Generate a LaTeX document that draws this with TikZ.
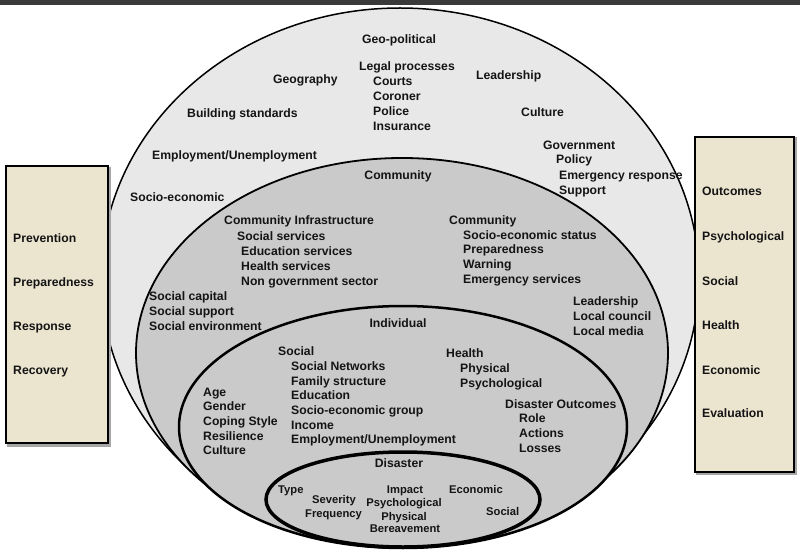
\documentclass[tikz,border=0pt]{standalone}
\usepackage{fontspec}
\setmainfont{Liberation Sans}
\begin{document}
\begin{tikzpicture}[x=1pt,y=-1pt,
  lbl/.style={anchor=base west,inner sep=0pt,font=\fontsize{12.2}{14}\selectfont\bfseries,text=black!92},
  clbl/.style={lbl,anchor=base},
  slbl/.style={lbl,font=\fontsize{11.2}{13}\selectfont\bfseries},
  sclbl/.style={slbl,anchor=base},
  ring/.style={draw=black},
  phasebox/.style={draw=black,line width=2.2pt,fill=boxfill}]
\definecolor{boxfill}{HTML}{EBE5D0}
\definecolor{outerfill}{HTML}{E8E8E8}
\definecolor{innerfill}{HTML}{CACACA}
\definecolor{bandcol}{HTML}{3A3A3A}
\useasboundingbox (0,0) rectangle (800,556);
\fill[white] (0,0) rectangle (800,556);
\fill[bandcol] (0,0) rectangle (800,5);
% ellipses
\draw[ring,fill=outerfill,line width=1.5pt] (400,278) ellipse [x radius=299,y radius=270];
\draw[ring,fill=innerfill,line width=1.8pt] (402,353) ellipse [x radius=266,y radius=195];
\draw[ring,fill=innerfill,line width=2.5pt] (403,427) ellipse [x radius=224,y radius=121];
\draw[ring,fill=innerfill,line width=3.5pt] (403,499.5) ellipse [x radius=137,y radius=47.5];
% boxes
\fill[black!35] (6.5,167.5) rectangle (110.5,446.5);
\node[phasebox,minimum width=102pt,minimum height=277pt,anchor=north west,inner sep=0pt] (lbox) at (5,165) {};
\fill[black!35] (695.5,137.5) rectangle (796.5,474.5);
\node[phasebox,minimum width=99pt,minimum height=335pt,anchor=north west,inner sep=0pt] (rbox) at (694,136) {};
% outer ring texts
\node[clbl] (o1) at (399,44) {Geo-political};
\node[lbl] (o2) at (273,84) {Geography};
\node[lbl] (o3) at (359,71) {Legal processes};
\node[lbl] (o4) at (373,86) {Courts};
\node[lbl] (o5) at (373,101) {Coroner};
\node[lbl] (o6) at (373,116) {Police};
\node[lbl] (o7) at (373,131) {Insurance};
\node[lbl] (o8) at (476,80) {Leadership};
\node[lbl] (o9) at (187,118) {Building standards};
\node[lbl] (o10) at (521,117) {Culture};
\node[lbl] (o11) at (152,160) {Employment/Unemployment};
\node[lbl] (o12) at (543,150) {Government};
\node[lbl] (o13) at (556,164) {Policy};
\node[lbl] (o14) at (559,180) {Emergency response};
\node[lbl] (o15) at (559,194) {Support};
\node[lbl] (o16) at (130,201) {Socio-economic};
% community texts
\node[clbl] (c1) at (398,180) {Community};
\node[lbl] (c2) at (224,225) {Community Infrastructure};
\node[lbl] (c3) at (237,240) {Social services};
\node[lbl] (c4) at (241,255) {Education services};
\node[lbl] (c5) at (241,270) {Health services};
\node[lbl] (c6) at (241,285) {Non government sector};
\node[lbl] (c7) at (449,224) {Community};
\node[lbl] (c8) at (463,239) {Socio-economic status};
\node[lbl] (c9) at (463,253) {Preparedness};
\node[lbl] (c10) at (463,268) {Warning};
\node[lbl] (c11) at (463,283) {Emergency services};
\node[lbl] (c12) at (149,300) {Social capital};
\node[lbl] (c13) at (149,315) {Social support};
\node[lbl] (c14) at (149,330) {Social environment};
\node[lbl] (c15) at (573,305) {Leadership};
\node[lbl] (c16) at (573,320) {Local council};
\node[lbl] (c17) at (573,335) {Local media};
% individual texts
\node[clbl] (i1) at (398,327) {Individual};
\node[lbl] (i2) at (278,355) {Social};
\node[lbl] (i3) at (291,370) {Social Networks};
\node[lbl] (i4) at (291,385) {Family structure};
\node[lbl] (i5) at (291,399) {Education};
\node[lbl] (i6) at (291,414) {Socio-economic group};
\node[lbl] (i7) at (291,429) {Income};
\node[lbl] (i8) at (291,443) {Employment/Unemployment};
\node[lbl] (i9) at (446,357) {Health};
\node[lbl] (i10) at (460,372) {Physical};
\node[lbl] (i11) at (460,387) {Psychological};
\node[lbl] (i12) at (203,396) {Age};
\node[lbl] (i13) at (203,410) {Gender};
\node[lbl] (i14) at (203,425) {Coping Style};
\node[lbl] (i15) at (203,440) {Resilience};
\node[lbl] (i16) at (203,454) {Culture};
\node[lbl] (i17) at (505,408) {Disaster Outcomes};
\node[lbl] (i18) at (519,422) {Role};
\node[lbl] (i19) at (519,437) {Actions};
\node[lbl] (i20) at (519,452) {Losses};
% disaster texts
\node[clbl] (d1) at (399,467) {Disaster};
\node[slbl] (d2) at (278,493) {Type};
\node[slbl] (d3) at (312,503) {Severity};
\node[slbl] (d4) at (305,517) {Frequency};
\node[sclbl] (d5) at (405,493) {Impact};
\node[sclbl] (d6) at (404,506) {Psychological};
\node[sclbl] (d7) at (404,520) {Physical};
\node[sclbl] (d8) at (405,532) {Bereavement};
\node[slbl] (d9) at (449,493) {Economic};
\node[slbl] (d10) at (486,515) {Social};
% left box texts
\node[lbl] (l1) at (13,242) {Prevention};
\node[lbl] (l2) at (13,286) {Preparedness};
\node[lbl] (l3) at (13,330) {Response};
\node[lbl] (l4) at (13,374) {Recovery};
% right box texts
\node[lbl] (r1) at (702,196) {Outcomes};
\node[lbl] (r2) at (702,240) {Psychological};
\node[lbl] (r3) at (702,285) {Social};
\node[lbl] (r4) at (702,329) {Health};
\node[lbl] (r5) at (702,374) {Economic};
\node[lbl] (r6) at (702,417) {Evaluation};
\end{tikzpicture}
\end{document}
